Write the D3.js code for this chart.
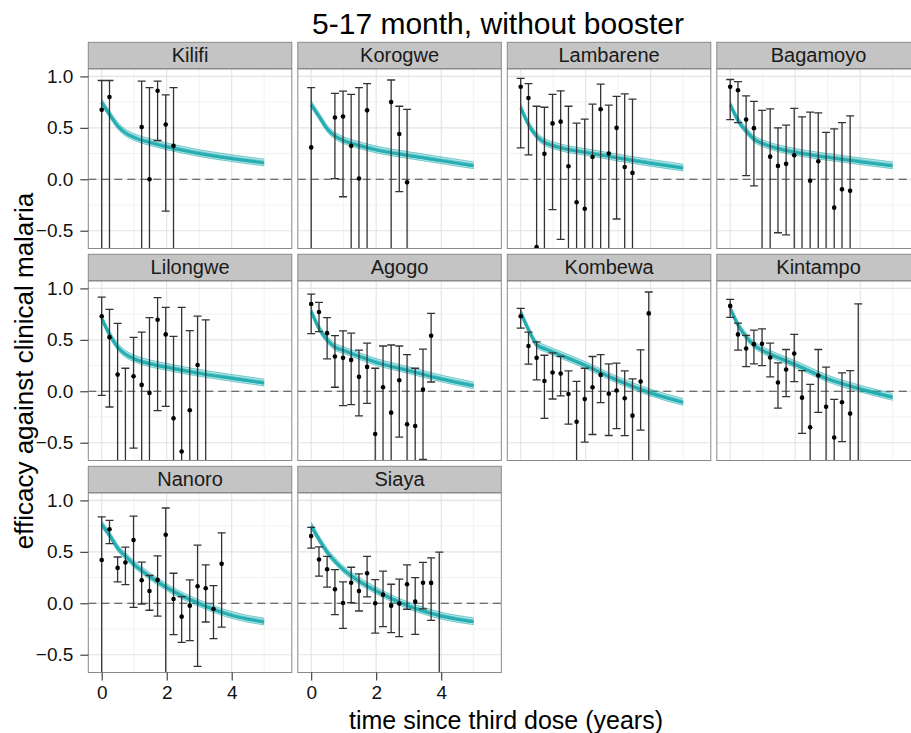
<!DOCTYPE html>
<html><head><meta charset="utf-8">
<script src="https://cdn.jsdelivr.net/npm/d3@7"></script>
<style>body{margin:0;background:#fff}svg{display:block}text{font-family:"Liberation Sans",Arial,Helvetica,sans-serif}</style>
</head><body><div id="chart"></div>
<script>
const sites = ["Kilifi","Korogwe","Lambarene","Bagamoyo","Lilongwe","Agogo","Kombewa","Kintampo","Nanoro","Siaya"];
const titleText = "5-17 month, without booster";
const xTitle = "time since third dose (years)";
const yTitle = "efficacy against clinical malaria";
const xTicks = [0,2,4];
const xMinor = [1,3,5];
const yTicks = [-0.5,0,0.5,1.0];
const yMinor = [-0.25,0.25,0.75];

const q = [0,0.24,0.49,0.73,0.98,1.23,1.47,1.72,1.97,2.21,2.46,2.71,2.95,3.2,3.44,3.69,3.94];
const pointTime = [
  [0,0.24,1.23,1.47,1.72,1.97,2.21],
  [0,0.73,0.98,1.23,1.47,1.72,2.46,2.71,2.95],
  q.slice(0,15), q.slice(0,16), q.slice(0,14), q.slice(0,16),
  q.slice(0,17), q.slice(0,17), q.slice(0,16), q.slice(0,17)
];
// values below the panel (e.g. -1) are outside the visible range and clipped
const pointEff = [
  [0.675,0.80,0.507,0.0,0.86,0.533,0.325],
  [0.31,0.60,0.61,0.325,0.007,0.67,0.75,0.44,-0.03],
  [0.90,0.79,-0.66,0.247,0.543,0.56,0.127,-0.224,-0.286,0.217,0.68,0.25,0.50,0.12,0.062],
  [0.90,0.865,0.58,0.497,-0.8,0.22,0.13,0.15,0.234,-0.8,-0.015,0.175,-0.8,-0.276,-0.098,-0.112],
  [0.73,0.526,0.162,-0.8,0.146,0.062,-0.016,0.695,0.553,-0.263,-0.585,-0.185,0.256,-0.8],
  [0.848,0.77,0.565,0.338,0.325,0.305,0.14,0.237,-0.416,0.039,-0.208,0.107,-0.32,-0.338,0.016,0.54],
  [0.73,0.44,0.325,0.10,0.182,0.172,-0.026,-0.296,-0.075,0.039,0.159,-0.023,0.007,-0.068,-0.237,0.094,0.757],
  [0.83,0.553,0.416,0.458,0.461,0.328,0.085,0.211,0.367,-0.062,-0.35,0.153,-0.15,-0.45,-0.107,-0.217,-0.8],
  [0.42,0.72,0.344,0.397,0.614,0.224,0.12,0.227,0.666,0.042,-0.13,-0.023,0.166,0.146,-0.055,0.383],
  [0.653,0.426,0.331,0.136,0.003,0.2,0.12,0.292,0.0,0.084,-0.023,-0.003,0.185,0.016,0.2,0.198,-0.8]
];
const pointLow = [
  [-1,-1,-1,-1,0.377,-0.31,-1],
  [-1,0.007,-0.17,-1,-1,-1,-1,-0.12,-1],
  [0.305,0.237,-1,-1,-0.295,-0.585,-1,-1,-1,-1,-1,-1,-0.386,-1,-1],
  [0.58,0.55,0.036,-0.065,-1,-1,-0.52,-0.54,-1,-1,-1,-1,-1,-1,-1,-1],
  [-0.04,-0.153,-1,-1,-0.553,-1,-1,-0.188,-0.146,-1,-1,-1,-1,-1],
  [0.56,0.58,0.315,0.039,-0.14,-0.13,-0.24,-0.117,-1,-1,-1,-0.445,-1,-1,-0.663,0.09],
  [0.614,0.263,0.11,-0.263,-0.075,-0.045,-0.32,-1,-0.494,-0.42,-0.11,-0.43,-0.364,-0.432,-1,-0.377,-1],
  [0.718,0.40,0.24,0.266,0.25,0.14,-0.163,-0.052,0.094,-0.41,-1,-0.205,-1,-1,-0.49,-1,-1],
  [-1,0.58,0.208,0.182,-0.039,-0.007,-0.068,-0.124,-1,-0.305,-0.38,-0.364,-0.614,-0.182,-0.344,-0.231],
  [0.536,0.263,0.156,-0.11,-0.244,0.007,-0.075,0.062,-0.29,-0.227,-0.286,-0.325,-0.058,-0.302,-0.055,-0.166,-1]
];
const pointHigh = [
  [0.96,0.96,0.955,0.89,0.955,0.82,0.89],
  [0.89,0.835,0.857,0.825,0.89,0.93,0.965,0.71,0.68],
  [0.98,0.93,0.71,0.70,0.825,0.86,0.71,0.545,0.585,0.73,0.925,0.72,0.805,0.83,0.78],
  [0.97,0.95,0.81,0.757,0.67,0.685,0.50,0.526,0.69,0.607,0.653,0.646,0.455,0.49,0.55,0.617],
  [0.916,0.796,0.66,0.224,0.523,0.575,0.715,0.91,0.816,0.533,0.816,0.59,0.73,0.695],
  [0.945,0.864,0.715,0.54,0.588,0.565,0.40,0.468,0.224,0.44,0.45,0.44,0.357,0.224,0.41,0.757],
  [0.806,0.575,0.48,0.35,0.373,0.34,0.198,0.097,0.224,0.338,0.357,0.266,0.273,0.198,0.12,0.403,0.965],
  [0.893,0.663,0.543,0.594,0.607,0.468,0.276,0.406,0.553,0.20,0.068,0.406,0.234,-0.078,0.178,0.20,0.85],
  [0.84,0.806,0.45,0.546,0.848,0.40,0.27,0.461,0.926,0.292,0.065,0.227,0.565,0.373,0.172,0.685],
  [0.738,0.549,0.455,0.328,0.208,0.35,0.286,0.455,0.23,0.312,0.185,0.234,0.373,0.25,0.397,0.442,0.497]
];
const curveTime = [0,0.25,0.5,0.75,1,1.5,2,3,4,5];
const curveEff = [
  [0.75,0.63,0.52,0.45,0.41,0.36,0.32,0.255,0.205,0.163],
  [0.73,0.61,0.49,0.42,0.38,0.33,0.29,0.234,0.185,0.136],
  [0.70,0.53,0.42,0.36,0.33,0.29,0.265,0.21,0.16,0.114],
  [0.73,0.57,0.47,0.39,0.35,0.30,0.266,0.217,0.175,0.136],
  [0.71,0.55,0.43,0.36,0.32,0.27,0.237,0.178,0.13,0.085],
  [0.78,0.61,0.50,0.43,0.40,0.34,0.285,0.205,0.124,0.058],
  [0.77,0.595,0.455,0.416,0.383,0.32,0.253,0.107,-0.013,-0.104],
  [0.81,0.643,0.53,0.448,0.40,0.328,0.263,0.124,0.026,-0.055],
  [0.77,0.66,0.536,0.455,0.38,0.26,0.156,0.0,-0.114,-0.178],
  [0.757,0.62,0.497,0.406,0.328,0.214,0.124,-0.023,-0.12,-0.175]
];

const W = 911, H = 733;
const ncol = 4, colStep = 209.5, left0 = 88.3, pw = 203.5;
const rowStep = 212, stripTop0 = 42.3, stripH = 26.2, panelTop0 = 69, ph = 179.5;
const teal = "#17a9ad";

const svg = d3.select("#chart").append("svg").attr("width", W).attr("height", H);
const x = d3.scaleLinear().domain([-0.412, 5.849]).range([0, pw]);
const y = d3.scaleLinear().domain([-0.673, 1.072]).range([ph, 0]);

svg.append("text").attr("x", 498).attr("y", 34).attr("text-anchor","middle")
  .attr("font-size", 30).attr("fill","#000").text(titleText);
svg.append("text").attr("x", 506).attr("y", 729).attr("text-anchor","middle")
  .attr("font-size", 25).attr("fill","#000").text(xTitle);
svg.append("text").attr("transform","translate(33,371) rotate(-90)").attr("text-anchor","middle")
  .attr("font-size", 26).attr("fill","#000").text(yTitle);

const defs = svg.append("defs");
const line = d3.line().x((d,i)=>x(curveTime[i])).y(d=>y(d)).curve(d3.curveMonotoneX);

sites.forEach((site, s) => {
  const col = s % ncol, row = Math.floor(s / ncol);
  const px = left0 + col*colStep, py = panelTop0 + row*rowStep;
  const sy = stripTop0 + row*rowStep;
  // strip
  svg.append("rect").attr("x", px).attr("y", sy).attr("width", pw).attr("height", stripH)
    .attr("fill","#c4c4c4").attr("stroke","#8a8a8a").attr("stroke-width",1);
  svg.append("text").attr("x", px+pw/2).attr("y", sy+stripH/2+7).attr("text-anchor","middle")
    .attr("font-size", 20).attr("fill","#1a1a1a").text(site);

  const g = svg.append("g").attr("transform", `translate(${px},${py})`);
  defs.append("clipPath").attr("id","clip"+s).append("rect").attr("width", pw).attr("height", ph);
  g.append("rect").attr("width", pw).attr("height", ph).attr("fill","#fff");
  // grid
  g.selectAll(".gxm").data(xMinor).join("line").attr("x1",d=>x(d)).attr("x2",d=>x(d)).attr("y1",0).attr("y2",ph)
    .attr("stroke","#f2f2f2").attr("stroke-width",1);
  g.selectAll(".gym").data(yMinor).join("line").attr("y1",d=>y(d)).attr("y2",d=>y(d)).attr("x1",0).attr("x2",pw)
    .attr("stroke","#f2f2f2").attr("stroke-width",1);
  g.selectAll(".gx").data(xTicks).join("line").attr("x1",d=>x(d)).attr("x2",d=>x(d)).attr("y1",0).attr("y2",ph)
    .attr("stroke","#e3e3e3").attr("stroke-width",1.1);
  g.selectAll(".gy").data(yTicks).join("line").attr("y1",d=>y(d)).attr("y2",d=>y(d)).attr("x1",0).attr("x2",pw)
    .attr("stroke","#e3e3e3").attr("stroke-width",1.1);

  const c = g.append("g").attr("clip-path", `url(#clip${s})`);
  c.append("line").attr("x1",0).attr("x2",pw).attr("y1",y(0)).attr("y2",y(0))
    .attr("stroke","#444").attr("stroke-width",1.2).attr("stroke-dasharray","8,5");

  // model band
  const ce = curveEff[s];
  const area = d3.area().x((d,i)=>x(curveTime[i])).y0(d=>y(d)+3.6).y1(d=>y(d)-3.6).curve(d3.curveMonotoneX);
  c.append("path").attr("d", area(ce)).attr("fill", teal).attr("fill-opacity",0.3);
  [-3.4,-1.4,1.6,3.4].forEach(off => {
    c.append("path").attr("d", line.y(d=>y(d)+off)(ce)).attr("fill","none")
      .attr("stroke", teal).attr("stroke-opacity",0.55).attr("stroke-width",0.9);
  });
  c.append("path").attr("d", line.y(d=>y(d)+0.4)(ce)).attr("fill","none")
    .attr("stroke", teal).attr("stroke-opacity",0.9).attr("stroke-width",3);

  // error bars & points
  const pts = pointTime[s].map((t,i)=>({t, e: pointEff[s][i], lo: pointLow[s][i], hi: pointHigh[s][i]}));
  const eb = c.selectAll(".eb").data(pts).join("g");
  eb.append("line").attr("x1",d=>x(d.t)).attr("x2",d=>x(d.t)).attr("y1",d=>y(d.lo)).attr("y2",d=>y(d.hi))
    .attr("stroke","#333").attr("stroke-width",1.3);
  eb.append("line").attr("x1",d=>x(d.t)-4).attr("x2",d=>x(d.t)+4).attr("y1",d=>y(d.hi)).attr("y2",d=>y(d.hi))
    .attr("stroke","#333").attr("stroke-width",1.3);
  eb.append("line").attr("x1",d=>x(d.t)-4).attr("x2",d=>x(d.t)+4).attr("y1",d=>y(d.lo)).attr("y2",d=>y(d.lo))
    .attr("stroke","#333").attr("stroke-width",1.3);
  c.selectAll(".pt").data(pts).join("circle").attr("cx",d=>x(d.t)).attr("cy",d=>y(d.e)).attr("r",2.3).attr("fill","#000");

  g.append("rect").attr("width", pw).attr("height", ph).attr("fill","none").attr("stroke","#8a8a8a").attr("stroke-width",1);

  // axes
  if (col === 0) {
    const ya = g.append("g").call(d3.axisLeft(y).tickValues(yTicks).tickFormat(d3.format(".1f")).tickSize(8).tickPadding(7));
    ya.select(".domain").remove();
    ya.selectAll("line").attr("stroke","#333").attr("stroke-width",1.1);
    ya.selectAll("text").attr("font-size",19).attr("fill","#111").attr("font-family",'"Liberation Sans",Arial,sans-serif');
  }
  if (row === 2) {
    const xa = g.append("g").attr("transform",`translate(0,${ph})`).call(d3.axisBottom(x).tickValues(xTicks).tickFormat(d3.format("d")).tickSize(8).tickPadding(5));
    xa.select(".domain").remove();
    xa.selectAll("line").attr("stroke","#333").attr("stroke-width",1.1);
    xa.selectAll("text").attr("font-size",19).attr("fill","#111").attr("font-family",'"Liberation Sans",Arial,sans-serif');
  }
});
</script></body></html>
